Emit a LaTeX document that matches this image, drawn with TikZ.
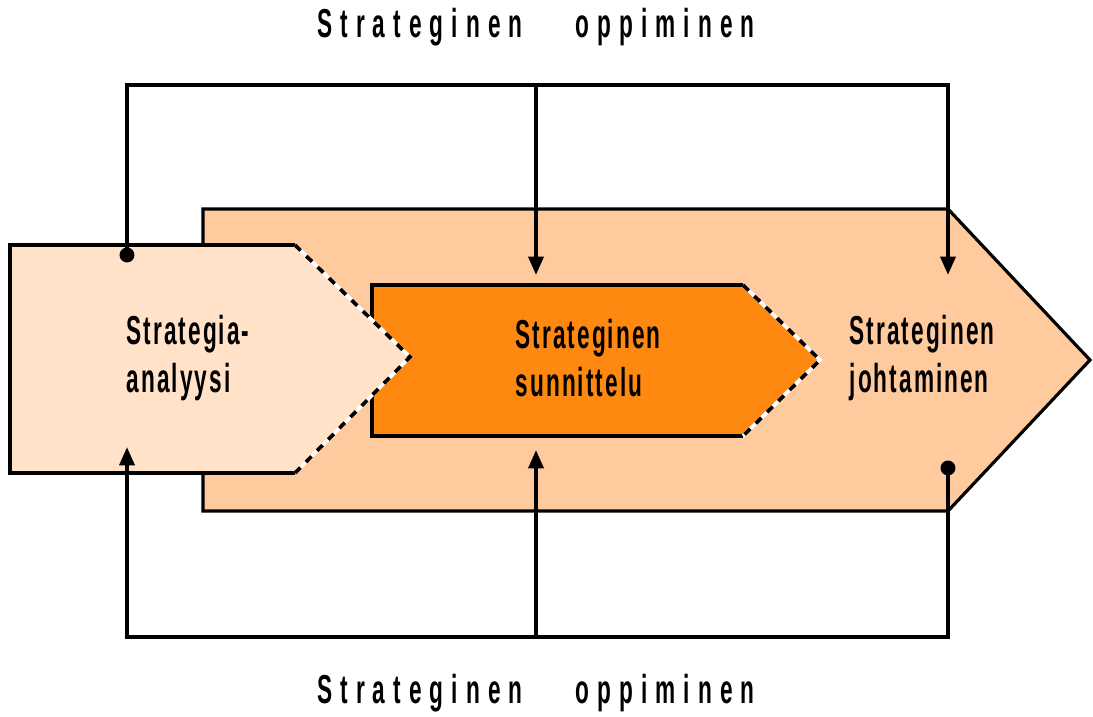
\documentclass[tikz,border=0pt]{standalone}
\usepackage{fontspec}
\setmainfont[FakeStretch=0.56,LetterSpace=5]{Liberation Sans}
\newfontfamily\spacedfont[FakeStretch=0.56,LetterSpace=20]{Liberation Sans}
\usetikzlibrary{arrows.meta}
\definecolor{outerfill}{HTML}{FFCA9E}
\definecolor{leftfill}{HTML}{FFE2C8}
\definecolor{midfill}{HTML}{FF8811}

\begin{document}
\begin{tikzpicture}[x=0.02cm, y=-0.02cm, line width=2.1pt,
        phase/.style = {align=left, anchor=west, inner sep=0pt, font=\bfseries\fontsize{23}{27}\selectfont},
        title/.style = {font=\spacedfont\bfseries\fontsize{23}{27}\selectfont},
        tip/.style = {line width=2.2pt, -{Triangle[length=10.5pt,width=8.5pt]}},
        dot/.style = {circle, fill, inner sep=0pt, minimum size=8.5pt},
        cutedge/.style = {dash pattern=on 4.5pt off 4.5pt}]
        \useasboundingbox (0,0) rectangle (1093,717);

        % the three phases
        \draw[fill=outerfill, line width=1.8pt] (203,209) -- (948,209) -- (1090,360) -- (948,511) -- (203,511) -- cycle;
        \fill[midfill] (372,285) -- (743,285) -- (820,360) -- (743,436) -- (372,436) -- cycle;
        \draw (743,285) -- (372,285) -- (372,436) -- (743,436);
        \draw[white] (743,285) -- (820,360) -- (743,436);
        \draw[cutedge] (743,285) -- (820,360) -- (743,436);
        \fill[leftfill] (10,245) -- (295,245) -- (410,357) -- (295,473) -- (10,473) -- cycle;
        \draw (295,245) -- (10,245) -- (10,473) -- (295,473);
        \draw[white] (295,245) -- (410,357) -- (295,473);
        \draw[cutedge] (295,245) -- (410,357) -- (295,473);

        \node[phase] (A) at (125,358) {Strategia-\\analyysi};
        \node[phase] (S) at (514,358) {Strateginen\\sunnittelu};
        \node[phase] (J) at (848,358) {Strateginen\\johtaminen};

        \node[title] (top) at (536,27) {Strateginen\hspace{22pt} oppiminen};
        \node[title] (bot) at (536,693) {Strateginen\hspace{22pt} oppiminen};

        % feedback loops
        \node[dot] (dA) at (127,255) {};
        \node[dot] (dJ) at (948,468) {};
        \coordinate (tm) at (536,85);
        \coordinate (bm) at (536,637);
        \coordinate (inS) at (536,275);
        \coordinate (inJ) at (948,275);
        \coordinate (inA) at (127,447);
        \coordinate (inS2) at (536,450);

        \draw[tip] (dA.center) |- (tm) -| (inJ);
        \draw[tip] (tm) -- (inS);
        \draw[tip] (dJ.center) |- (bm) -| (inA);
        \draw[tip] (bm) -- (inS2);
    \end{tikzpicture}
\end{document}
